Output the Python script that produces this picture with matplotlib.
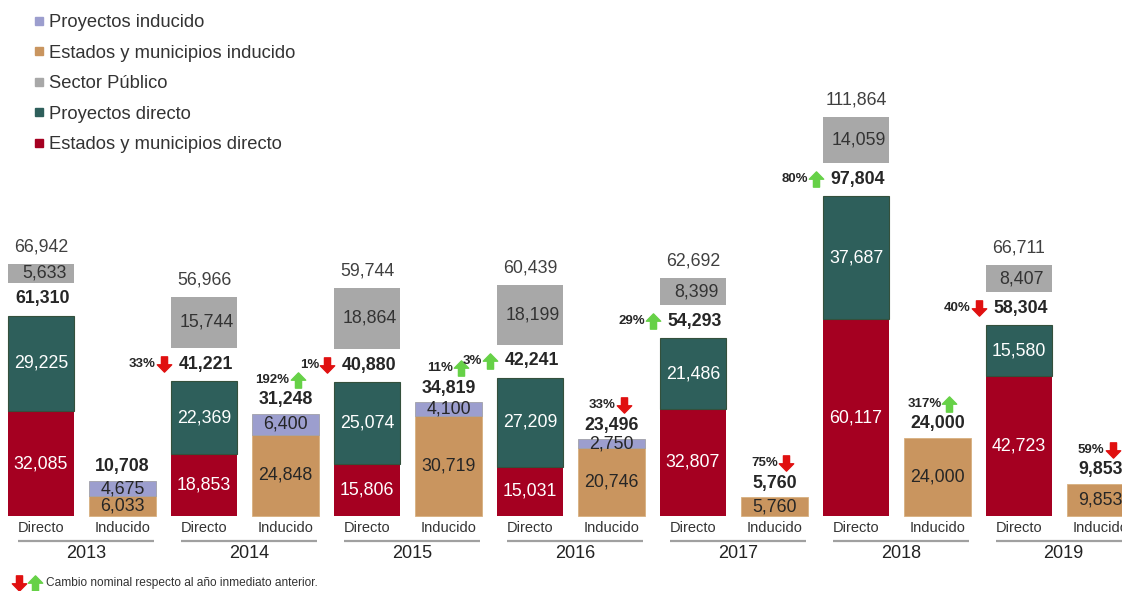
import matplotlib
matplotlib.use('Agg')
import matplotlib.pyplot as plt
from matplotlib.path import Path
from matplotlib.lines import Line2D

plt.rcParams['font.family'] = ['Liberation Sans', 'DejaVu Sans']

# ---------------- data ----------------
years = ['2013', '2014', '2015', '2016', '2017', '2018', '2019']
cat_labels = ['Directo', 'Inducido']
edo_directo = [32085, 18853, 15806, 15031, 32807, 60117, 42723]
proy_directo = [29225, 22369, 25074, 27209, 21486, 37687, 15580]
total_directo = [61310, 41221, 40880, 42241, 54293, 97804, 58304]
sector_publico = [5633, 15744, 18864, 18199, 8399, 14059, 8407]
gran_total = [66942, 56966, 59744, 60439, 62692, 111864, 66711]
edo_inducido = [6033, 24848, 30719, 20746, 5760, 24000, 9853]
proy_inducido = [4675, 6400, 4100, 2750, 0, 0, 0]
total_inducido = [10708, 31248, 34819, 23496, 5760, 24000, 9853]
cambio_directo = [None, '33%', '1%', '3%', '29%', '80%', '40%']
sentido_directo = [None, 'down', 'down', 'up', 'up', 'up', 'down']
cambio_inducido = [None, '192%', '11%', '33%', '75%', '317%', '59%']
sentido_inducido = [None, 'up', 'up', 'down', 'down', 'up', 'down']

# ---------------- style ----------------
C_RED = '#A50021'
C_GREEN = '#2E5F5B'
C_TAN = '#C9955F'
C_LAV = '#9C9ECE'
C_GRAY = '#A8A8A8'
C_TXT = '#262626'
C_UP = '#66D147'
C_DOWN = '#E01010'

W, H, DPI = 1122, 591, 100
PX_X = 81.5          # pixels per bar slot
X0 = 41.0            # pixel centre of first bar
PX_PER_K = 3.27      # pixels per 1000 units
BASE = 75.0          # baseline pixels from bottom
BAR_W = 0.82


def px2y(p):
    return p / PX_PER_K * 1000.0


def px2x(p):
    return p / PX_X


fig = plt.figure(figsize=(W / DPI, H / DPI), dpi=DPI)
ax = fig.add_axes([0, 0, 1, 1])
ax.set_xlim(-X0 / PX_X, (W - X0) / PX_X)
ax.set_ylim(-px2y(BASE), px2y(H - BASE))
ax.axis('off')

up_path = Path([(-0.2, -0.5), (0.2, -0.5), (0.2, 0.02), (0.47, 0.02), (0, 0.5),
                (-0.47, 0.02), (-0.2, 0.02), (-0.2, -0.5)],
               [Path.MOVETO] + [Path.LINETO] * 6 + [Path.CLOSEPOLY])
down_path = Path([(x, -y) for x, y in up_path.vertices], up_path.codes)


def arrow(x, y, sentido, dx_px, dy_px, size=11):
    m = up_path if sentido == 'up' else down_path
    c = C_UP if sentido == 'up' else C_DOWN
    ax.plot([x + px2x(dx_px)], [y + px2y(dy_px)], marker=m, markersize=size,
            color=c, linestyle='none', clip_on=False)


def label(x, y, s, dy_px=0, dx_px=0, **kw):
    kw.setdefault('ha', 'center')
    kw.setdefault('va', 'center')
    ax.annotate(s, (x, y), xytext=(dx_px * 0.72, dy_px * 0.72),
                textcoords='offset points', annotation_clip=False, **kw)


fmt = lambda v: f'{v:,}'
FS = 12.8

for i, yr in enumerate(years):
    xd = 2 * i
    xi = 2 * i + 1
    # Directo stack
    ax.bar(xd, edo_directo[i], BAR_W, color=C_RED, linewidth=0)
    ax.bar(xd, proy_directo[i], BAR_W, bottom=edo_directo[i], color=C_GREEN,
           edgecolor='#34503C', linewidth=0.8)
    label(xd, edo_directo[i] / 2, fmt(edo_directo[i]), color='white', fontsize=FS)
    label(xd, edo_directo[i] + proy_directo[i] / 2, fmt(proy_directo[i]),
          color='white', fontsize=FS)
    top_d = edo_directo[i] + proy_directo[i]
    label(xd, top_d, fmt(total_directo[i]), dy_px=17, dx_px=2, fontsize=FS,
          fontweight='bold', color=C_TXT)
    # Sector publico floating box
    sp_bottom = top_d + px2y(33)
    ax.bar(xd, sector_publico[i], BAR_W, bottom=sp_bottom, color=C_GRAY, linewidth=0)
    label(xd, sp_bottom + sector_publico[i] / 2, fmt(sector_publico[i]), dx_px=3,
          fontsize=FS, color='#333333')
    label(xd, sp_bottom + sector_publico[i], fmt(gran_total[i]), dy_px=17,
          fontsize=FS, color='#404040')
    if cambio_directo[i]:
        arrow(xd, top_d, sentido_directo[i], -40, 17)
        label(xd, top_d, cambio_directo[i], dy_px=17, dx_px=-48, ha='right',
              fontsize=9.5, fontweight='bold', color=C_TXT)

    # Inducido stack
    ax.bar(xi, edo_inducido[i], BAR_W, color=C_TAN, edgecolor='#D8B080', linewidth=0.6)
    label(xi, edo_inducido[i] / 2, fmt(edo_inducido[i]), fontsize=FS, color=C_TXT)
    top_i = edo_inducido[i] + proy_inducido[i]
    if proy_inducido[i]:
        ax.bar(xi, proy_inducido[i], BAR_W, bottom=edo_inducido[i], color=C_LAV,
               edgecolor='#A0A0A8', linewidth=0.6)
        label(xi, edo_inducido[i] + proy_inducido[i] / 2, fmt(proy_inducido[i]),
              fontsize=FS, color=C_TXT)
    label(xi, top_i, fmt(total_inducido[i]), dy_px=14, fontsize=FS,
          fontweight='bold', color=C_TXT)
    if cambio_inducido[i]:
        arrow(xi, top_i, sentido_inducido[i], 12, 34)
        label(xi, top_i, cambio_inducido[i], dy_px=34, dx_px=4, ha='right',
              fontsize=9.5, fontweight='bold', color=C_TXT)

    # axis-like labels
    label(xd, 0, cat_labels[0], dy_px=-12, fontsize=10.5, color='#333333')
    label(xi, 0, cat_labels[1], dy_px=-12, fontsize=10.5, color='#333333')
    xm = (xd + xi) / 2 + px2x(4)
    ax.plot([xm - px2x(68), xm + px2x(68)], [-px2y(25)] * 2, color='#A0A0A0',
            lw=1.6, clip_on=False, solid_capstyle='butt')
    label(xm, 0, yr, dy_px=-37, fontsize=13, color='#222222')

# legend
leg_labels = ['Proyectos inducido', 'Estados y municipios inducido', 'Sector Público',
              'Proyectos directo', 'Estados y municipios directo']
leg_colors = [C_LAV, C_TAN, C_GRAY, C_GREEN, C_RED]
handles = [Line2D([], [], marker='s', linestyle='none', color=c, markersize=5.5)
           for c in leg_colors]
fig.legend(handles, leg_labels, loc='upper left', bbox_to_anchor=(33 / W, 1 - 14 / H),
           frameon=False, fontsize=13.2, handlelength=0.6, handletextpad=0.25,
           labelspacing=0.74, borderpad=0, borderaxespad=0, labelcolor='#333333')

# footnote
fy = 1 - 583 / H
for fx, s in [(19, 'down'), (35, 'up')]:
    ax.plot([fx / W], [fy], transform=fig.transFigure, marker=up_path if s == 'up' else down_path,
            markersize=11, color=C_UP if s == 'up' else C_DOWN, linestyle='none', clip_on=False)
fig.text(46 / W, fy, 'Cambio nominal respecto al año inmediato anterior.', fontsize=8.6,
         va='center', ha='left', color='#333333')

fig.savefig('out.png', dpi=DPI)
